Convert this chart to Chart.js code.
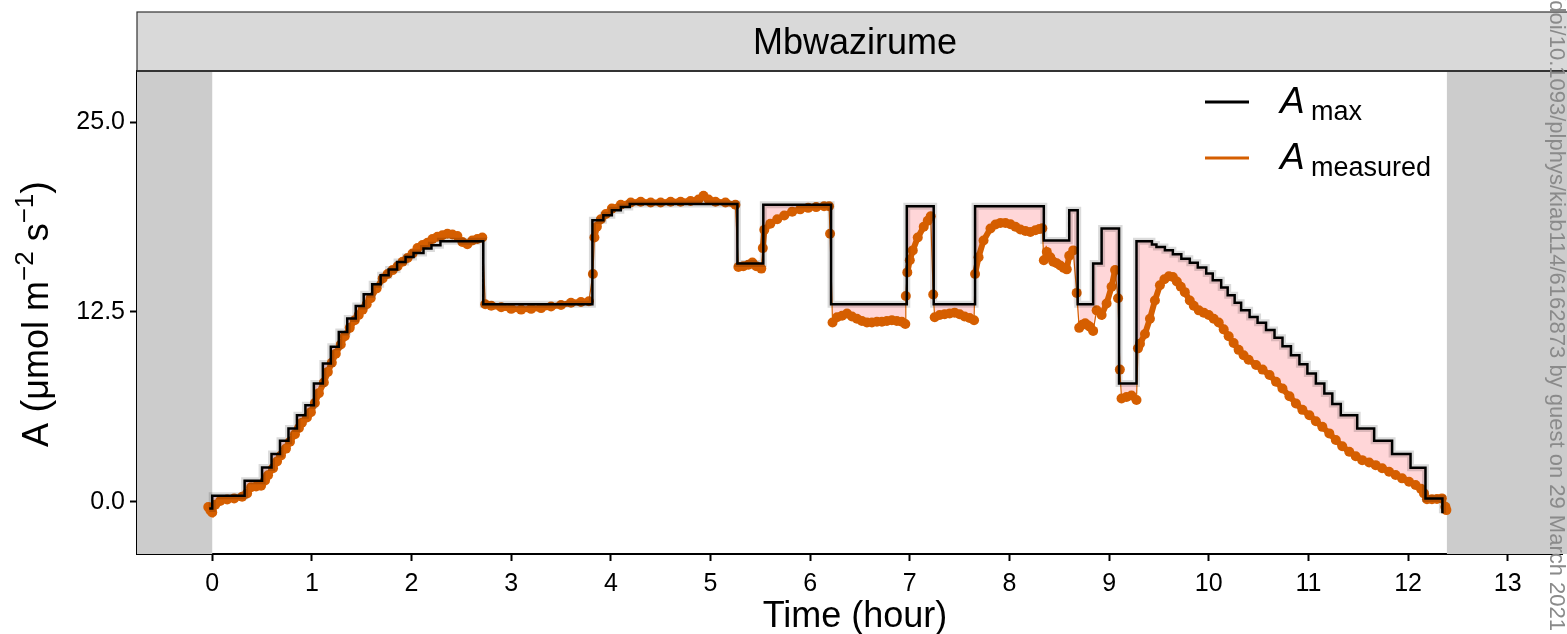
<!DOCTYPE html>
<html lang="en">
<head>
<meta charset="UTF-8">
<title>Mbwazirume - A max vs A measured</title>
<script src="https://cdn.jsdelivr.net/npm/chart.js@4.4.0/dist/chart.umd.min.js"></script>
<style>
  html, body { margin: 0; padding: 0; background: #fff; overflow: hidden; }
  canvas { display: block; }
</style>
</head>
<body>
<canvas id="chart" width="1567" height="634"></canvas>
<script>
// ---- data ----
const panelTitle = "Mbwazirume";

// A_max: step start times (hour) and the value held from that time on
const maxTime = [
  -0.03, 0.00, 0.325, 0.50, 0.595, 0.68, 0.765, 0.85, 0.935, 1.02, 1.11, 1.19, 1.27, 1.355,
  1.44, 1.52, 1.605, 1.69, 1.77, 1.855, 1.94, 2.02, 2.12, 2.20, 2.29, 2.72, 3.815, 3.925,
  4.01, 4.10, 4.19, 5.27, 5.53, 6.21, 6.97, 7.24, 7.655, 8.345, 8.60, 8.685, 8.84, 8.925,
  9.10, 9.275, 9.43, 9.475, 9.56, 9.64, 9.725, 9.81, 9.89, 9.975, 10.04, 10.125, 10.19,
  10.26, 10.325, 10.41, 10.49, 10.575, 10.66, 10.74, 10.825, 10.91, 10.99, 11.075, 11.16,
  11.24, 11.325, 11.49, 11.66, 11.84, 12.025, 12.175, 12.345
];
const maxA = [
  -0.44, 0.40, 1.38, 2.26, 3.14, 4.01, 4.83, 5.70, 6.36, 7.79, 9.10, 10.20, 11.18, 12.07,
  12.88, 13.66, 14.32, 14.91, 15.29, 15.79, 16.12, 16.38, 16.67, 16.89, 17.15, 13.00, 18.53, 18.86,
  19.20, 19.40, 19.60, 15.68, 19.55, 13.00, 19.45, 13.00, 19.45, 17.20, 19.19, 13.00, 15.68, 17.99,
  7.79, 17.15, 16.93, 16.78, 16.56, 16.30, 16.00, 15.73, 15.42, 15.03, 14.59, 14.10, 13.60,
  13.10, 12.61, 12.17, 11.78, 11.30, 10.79, 10.24, 9.65, 9.06, 8.45, 7.79, 7.13,
  6.43, 5.70, 4.83, 4.01, 3.14, 2.24, 0.22, -0.76
];

// A_measured: sample times (hour) and values
const measTime = [
  -0.04, -0.02, 0.00, 0.03, 0.08, 0.15, 0.22, 0.30, 0.35, 0.39, 0.44, 0.49, 0.53, 0.56,
  0.61, 0.65, 0.69, 0.74, 0.78, 0.83, 0.87, 0.90, 0.95, 0.99, 1.03, 1.07, 1.12, 1.16,
  1.20, 1.24, 1.29, 1.33, 1.38, 1.43, 1.47, 1.51, 1.55, 1.59, 1.65, 1.71, 1.76, 1.81,
  1.86, 1.91, 1.96, 2.01, 2.06, 2.11, 2.16, 2.21, 2.26, 2.31, 2.36, 2.41, 2.46, 2.51,
  2.56, 2.61, 2.66, 2.71, 2.74, 2.80, 2.90, 3.00, 3.10, 3.20, 3.30, 3.40, 3.50, 3.60,
  3.70, 3.78, 3.82, 3.835, 3.86, 3.90, 3.95, 4.01, 4.10, 4.20, 4.30, 4.40, 4.50, 4.60,
  4.70, 4.80, 4.88, 4.93, 4.98, 5.05, 5.15, 5.25, 5.28, 5.33, 5.38, 5.42, 5.46, 5.51,
  5.525, 5.54, 5.60, 5.67, 5.74, 5.82, 5.90, 5.98, 6.06, 6.14, 6.19, 6.20, 6.225, 6.27,
  6.32, 6.37, 6.42, 6.47, 6.52, 6.57, 6.62, 6.67, 6.72, 6.77, 6.82, 6.87, 6.92, 6.955,
  6.96, 6.975, 7.00, 7.03, 7.08, 7.14, 7.18, 7.21, 7.235, 7.25, 7.30, 7.35, 7.40, 7.45,
  7.50, 7.55, 7.60, 7.645, 7.655, 7.69, 7.74, 7.81, 7.86, 7.91, 7.96, 8.01, 8.06, 8.11,
  8.16, 8.21, 8.26, 8.30, 8.33, 8.345, 8.375, 8.41, 8.44, 8.475, 8.51, 8.545, 8.575, 8.60,
  8.64, 8.675, 8.70, 8.73, 8.76, 8.79, 8.81, 8.84, 8.875, 8.925, 8.975, 9.025, 9.06, 9.09,
  9.108, 9.125, 9.175, 9.225, 9.275, 9.29, 9.31, 9.36, 9.41, 9.46, 9.51, 9.555, 9.60, 9.64,
  9.68, 9.72, 9.76, 9.81, 9.85, 9.90, 9.95, 10.00, 10.05, 10.10, 10.15, 10.20, 10.25, 10.30,
  10.35, 10.40, 10.475, 10.54, 10.61, 10.675, 10.74, 10.81, 10.875, 10.94, 11.01, 11.075, 11.14, 11.21,
  11.275, 11.34, 11.41, 11.475, 11.54, 11.61, 11.675, 11.74, 11.81, 11.875, 11.94, 12.01, 12.075, 12.13,
  12.16, 12.19, 12.24, 12.29, 12.34, 12.375, 12.385
];
const measA = [
  -0.35, -0.55, -0.70, -0.20, 0.05, 0.15, 0.22, 0.33, 0.55, 0.95, 1.00, 1.05, 1.40, 1.75,
  2.20, 2.65, 3.05, 3.50, 3.95, 4.45, 4.85, 5.20, 5.55, 5.90, 6.50, 7.15, 7.85, 8.55,
  9.15, 9.75, 10.35, 10.90, 11.45, 11.95, 12.30, 12.65, 13.00, 13.40, 14.05, 14.70, 15.00, 15.25,
  15.50, 15.80, 16.05, 16.35, 16.70, 16.90, 17.05, 17.30, 17.45, 17.55, 17.65, 17.60, 17.50, 17.10,
  16.95, 17.20, 17.30, 17.40, 13.00, 12.90, 12.80, 12.70, 12.65, 12.70, 12.75, 12.85, 12.95, 13.10,
  13.15, 13.20, 15.00, 17.40, 18.10, 18.60, 18.95, 19.30, 19.55, 19.70, 19.75, 19.70, 19.70, 19.75,
  19.75, 19.80, 19.90, 20.15, 19.90, 19.75, 19.70, 19.55, 15.45, 15.50, 15.60, 15.75, 15.50, 15.35,
  16.70, 17.90, 18.30, 18.60, 18.85, 19.10, 19.25, 19.35, 19.40, 19.45, 19.45, 17.65, 11.80, 12.15,
  12.25, 12.40, 12.20, 12.05, 11.90, 11.80, 11.80, 11.85, 11.85, 11.90, 11.95, 11.90, 11.85, 11.70,
  13.55, 15.10, 15.90, 16.55, 17.40, 18.10, 18.50, 18.80, 13.65, 12.15, 12.30, 12.35, 12.40, 12.45,
  12.35, 12.20, 12.10, 11.95, 15.00, 16.10, 17.20, 17.99, 18.25, 18.36, 18.35, 18.27, 18.10, 17.93,
  17.82, 17.76, 17.87, 17.95, 18.00, 15.90, 16.45, 16.10, 15.80, 15.70, 15.55, 15.40, 15.30, 16.20,
  16.55, 13.75, 11.45, 11.65, 11.75, 11.60, 11.50, 11.25, 12.60, 12.30, 13.05, 14.15, 15.25, 13.40,
  8.70, 6.80, 6.90, 7.00, 6.70, 10.10, 10.40, 11.05, 12.05, 13.25, 14.25, 14.65, 14.85, 14.80,
  14.50, 14.15, 13.80, 13.25, 12.90, 12.60, 12.45, 12.30, 12.05, 11.80, 11.35, 10.90, 10.45, 10.00,
  9.65, 9.35, 9.00, 8.70, 8.34, 7.90, 7.46, 6.95, 6.47, 6.05, 5.70, 5.30, 4.93, 4.50,
  4.06, 3.65, 3.29, 3.00, 2.74, 2.58, 2.41, 2.20, 1.97, 1.76, 1.54, 1.32, 1.10, 0.85,
  0.55, 0.16, 0.16, 0.18, 0.22, -0.33, -0.55
];

// shaded night periods (hour)
const darkBefore = 0;
const darkAfter = 12.39;

const xTicksStep = 1;
const yTicksStep = 12.5;

// ---- styles ----
const FONT = "'Liberation Sans', Arial, Helvetica, sans-serif";
const ORANGE = "#D55E00";
const PINK = "#FFD6D8";
const SHADE = "#CCCCCC";

const maxPoints = maxTime.map((t, i) => ({ x: t, y: maxA[i] }));
const measPoints = measTime.map((t, i) => ({ x: t, y: measA[i] }));

const decorations = {
  id: "decorations",
  beforeDatasetsDraw(chart) {
    const { ctx, chartArea: a, scales: { x } } = chart;
    ctx.save();
    ctx.fillStyle = SHADE;
    const x0 = x.getPixelForValue(darkBefore);
    const x1 = x.getPixelForValue(darkAfter);
    ctx.fillRect(a.left, a.top, x0 - a.left, a.bottom - a.top);
    ctx.fillRect(x1, a.top, a.right - x1 + 10, a.bottom - a.top);
    ctx.restore();
  },
  afterDraw(chart) {
    const { ctx, chartArea: a } = chart;
    ctx.save();

    // facet strip
    ctx.fillStyle = "#D9D9D9";
    ctx.fillRect(a.left, 12, chart.width - a.left + 5, a.top - 12);
    ctx.strokeStyle = "#333";
    ctx.lineWidth = 1.2;
    ctx.strokeRect(a.left, 12, chart.width - a.left + 5, a.top - 12);
    ctx.lineWidth = 2.2;
    ctx.beginPath();
    ctx.moveTo(a.left, a.top);
    ctx.lineTo(chart.width, a.top);
    ctx.stroke();
    ctx.fillStyle = "#000";
    ctx.font = "36px " + FONT;
    ctx.textAlign = "center";
    ctx.textBaseline = "alphabetic";
    ctx.fillText(panelTitle, 855, 54);

    // x axis title
    ctx.font = "36px " + FONT;
    ctx.fillText("Time (hour)", 855, 627);

    // y axis title with superscripts
    const parts = [
      { t: "A", size: 36, up: 0 },
      { t: " (", size: 38, up: 0 },
      { t: "\u03bcmol m", size: 36, up: 0 },
      { t: "\u22122", size: 26, up: 15 },
      { t: " s", size: 36, up: 0 },
      { t: "\u22121", size: 26, up: 15 },
      { t: ")", size: 38, up: 0 }
    ];
    let total = 0;
    for (const p of parts) {
      ctx.font = p.size + "px " + FONT;
      p.w = ctx.measureText(p.t).width;
      total += p.w;
    }
    ctx.translate(48, 314);
    ctx.rotate(-Math.PI / 2);
    ctx.textAlign = "left";
    let cx = -total / 2;
    for (const p of parts) {
      ctx.font = p.size + "px " + FONT;
      ctx.fillText(p.t, cx, -p.up);
      cx += p.w;
    }
    ctx.setTransform(1, 0, 0, 1, 0, 0);

    // legend
    const rows = [
      { color: "#000", sub: "max", y: 102 },
      { color: ORANGE, sub: "measured", y: 158 }
    ];
    for (const r of rows) {
      ctx.strokeStyle = r.color;
      ctx.lineWidth = 3;
      ctx.beginPath();
      ctx.moveTo(1205, r.y);
      ctx.lineTo(1249, r.y);
      ctx.stroke();
      ctx.fillStyle = "#000";
      ctx.textAlign = "left";
      ctx.font = "italic 37px " + FONT;
      ctx.fillText("A", 1280, r.y + 11);
      ctx.font = "27px " + FONT;
      ctx.fillText(r.sub, 1311, r.y + 18);
    }

    // rotated watermark on the right edge
    ctx.translate(1556, 631);
    ctx.rotate(Math.PI / 2);
    ctx.fillStyle = "#8a8a8a";
    ctx.font = "22px " + FONT;
    ctx.textAlign = "right";
    ctx.textBaseline = "middle";
    ctx.fillText("Downloaded from https://academic.oup.com/plphys/advance-article/doi/10.1093/plphys/kiab114/6162873 by guest on 29 March 2021", 0, 0);
    ctx.restore();
  }
};

new Chart(document.getElementById("chart"), {
  type: "line",
  data: {
    datasets: [
      {
        label: "A max",
        data: maxPoints,
        stepped: true,
        borderColor: "#000",
        borderWidth: 2.5,
        pointRadius: 0,
        fill: false
      },
      {
        label: "A max band",
        data: maxPoints,
        stepped: true,
        borderColor: "rgba(0,0,0,0.14)",
        borderWidth: 7,
        pointRadius: 0,
        fill: false
      },
      {
        label: "A measured",
        data: measPoints,
        borderColor: ORANGE,
        borderWidth: 6,
        segment: {
          borderWidth: c => Math.abs(c.p1.parsed.y - c.p0.parsed.y) > 1.2 ? 1.2 : 6
        },
        pointRadius: 5,
        pointBackgroundColor: ORANGE,
        pointBorderWidth: 0,
        tension: 0,
        fill: { target: 0, above: "rgba(0,0,0,0)", below: PINK }
      }
    ]
  },
  options: {
    responsive: false,
    devicePixelRatio: 1,
    animation: false,
    layout: { padding: { top: 71, left: 0, right: 0, bottom: 0 } },
    plugins: {
      legend: { display: false },
      tooltip: { enabled: false }
    },
    scales: {
      x: {
        type: "linear",
        min: -0.755,
        max: 13.545,
        afterFit: s => { s.height = 80; },
        border: { display: true, color: "#000", width: 2 },
        grid: { drawOnChartArea: false, drawTicks: true, tickLength: 7, tickWidth: 2, tickColor: "#000" },
        ticks: {
          stepSize: xTicksStep,
          includeBounds: false,
          autoSkip: false,
          maxRotation: 0,
          padding: 8,
          color: "#000",
          font: { family: FONT, size: 25 }
        }
      },
      y: {
        type: "linear",
        min: -3.44,
        max: 28.36,
        afterFit: s => { s.width = 137; },
        border: { display: true, color: "#000", width: 2 },
        grid: { drawOnChartArea: false, drawTicks: true, tickLength: 7, tickWidth: 2, tickColor: "#000" },
        ticks: {
          stepSize: yTicksStep,
          includeBounds: false,
          padding: 5,
          color: "#000",
          font: { family: FONT, size: 25 },
          callback: v => v.toFixed(1)
        }
      }
    }
  },
  plugins: [decorations]
});
</script>
</body>
</html>
